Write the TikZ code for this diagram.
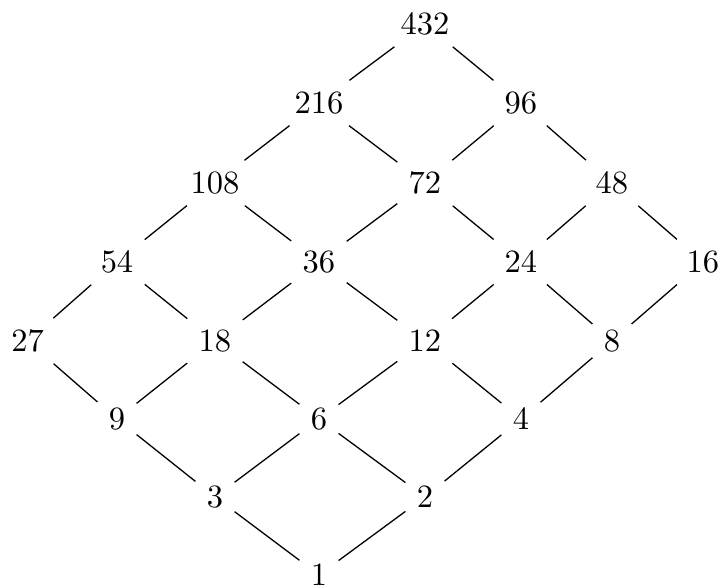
\documentclass[tikz,border=0pt]{standalone}
\begin{document}
\begin{tikzpicture}[x=0.3077pt,y=-0.3077pt,
  num/.style={inner sep=0.333em},
  link/.style={line width=0.4pt}]
\useasboundingbox (0,0) rectangle (719,586);
% rows
\node[num] (n432) at (425,24) {432};
\node[num] (n216) at (319,103) {216};
\node[num] (n96)  at (521,103) {96};
\node[num] (n108) at (215,183) {108};
\node[num] (n72)  at (425,183) {72};
\node[num] (n48)  at (612,183) {48};
\node[num] (n54)  at (117,262) {54};
\node[num] (n36)  at (319,262) {36};
\node[num] (n24)  at (521,262) {24};
\node[num] (n16)  at (703,262) {16};
\node[num] (n27)  at (27.5,341) {27};
\node[num] (n18)  at (215,341) {18};
\node[num] (n12)  at (425,341) {12};
\node[num] (n8)   at (612,341) {8};
\node[num] (n9)   at (117,419) {9};
\node[num] (n6)   at (319,419) {6};
\node[num] (n4)   at (521,419) {4};
\node[num] (n3)   at (215,497) {3};
\node[num] (n2)   at (425,497) {2};
\node[num] (n1)   at (319,575) {1};
% edges
\draw[link] (n432) -- (n216);
\draw[link] (n432) -- (n96);
\draw[link] (n216) -- (n108);
\draw[link] (n216) -- (n72);
\draw[link] (n96) -- (n72);
\draw[link] (n96) -- (n48);
\draw[link] (n108) -- (n54);
\draw[link] (n108) -- (n36);
\draw[link] (n72) -- (n36);
\draw[link] (n72) -- (n24);
\draw[link] (n48) -- (n24);
\draw[link] (n48) -- (n16);
\draw[link] (n54) -- (n27);
\draw[link] (n54) -- (n18);
\draw[link] (n36) -- (n18);
\draw[link] (n36) -- (n12);
\draw[link] (n24) -- (n12);
\draw[link] (n24) -- (n8);
\draw[link] (n16) -- (n8);
\draw[link] (n27) -- (n9);
\draw[link] (n18) -- (n9);
\draw[link] (n18) -- (n6);
\draw[link] (n12) -- (n6);
\draw[link] (n12) -- (n4);
\draw[link] (n8) -- (n4);
\draw[link] (n9) -- (n3);
\draw[link] (n6) -- (n3);
\draw[link] (n6) -- (n2);
\draw[link] (n4) -- (n2);
\draw[link] (n3) -- (n1);
\draw[link] (n2) -- (n1);
\end{tikzpicture}
\end{document}
